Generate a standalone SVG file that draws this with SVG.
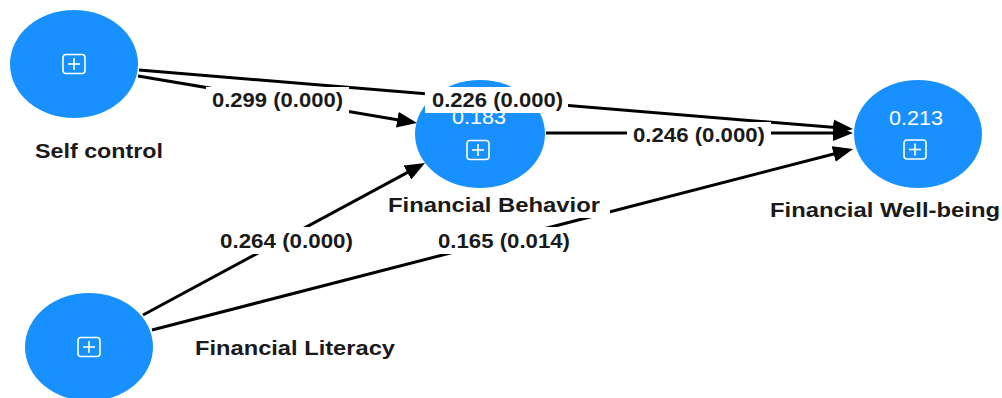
<svg xmlns="http://www.w3.org/2000/svg" width="1002" height="398" viewBox="0 0 1002 398">
<style>
.node{fill:#1890ff}
.lbl{font-family:"Liberation Sans",Arial,sans-serif;font-weight:bold;font-size:21px;fill:#1a1a1a;text-anchor:middle}
.num{font-family:"Liberation Sans",Arial,sans-serif;font-weight:bold;font-size:20px;fill:#1a1a1a;text-anchor:middle}
.r2{font-family:"Liberation Sans",Arial,sans-serif;font-size:20px;fill:#ffffff;text-anchor:middle}
.bg{fill:#ffffff}
.edge{stroke:#000;stroke-width:3;fill:none;marker-end:url(#ah)}
.icon{fill:none;stroke:#fff;stroke-width:1.6}
</style>
<defs>
<marker id="ah" markerUnits="userSpaceOnUse" viewBox="0 0 20 16" markerWidth="20" markerHeight="16" refX="15" refY="8" orient="auto">
<path d="M0,0 L20,8 L0,16 z" fill="#000"/>
</marker>
<g id="plusicon">
<rect x="-11" y="-9.5" width="22" height="19" rx="3" ry="3" class="icon"/>
<line x1="-6" y1="0" x2="6" y2="0" class="icon"/>
<line x1="0" y1="-6" x2="0" y2="6" class="icon"/>
</g>
</defs>

<g id="connectors">
<line class="edge" x1="139" y1="70" x2="848" y2="128.6"/>
<line class="edge" x1="138" y1="76" x2="412.1" y2="122.2"/>
<line class="edge" x1="546" y1="133" x2="848" y2="133"/>
<line class="edge" x1="143" y1="315" x2="420.6" y2="165.4"/>
<line class="edge" x1="152" y1="330" x2="848.2" y2="150.3"/>
</g>

<g id="self-control">
<ellipse class="node" cx="74" cy="64" rx="64" ry="54"/>
<use href="#plusicon" x="74" y="64"/>
<text class="lbl" x="99" y="158" textLength="128" lengthAdjust="spacingAndGlyphs">Self control</text>
</g>

<g id="financial-behavior">
<ellipse class="node" cx="480" cy="134" rx="65" ry="54"/>
<text class="r2" x="479" y="124" textLength="54" lengthAdjust="spacingAndGlyphs">0.183</text>
<use href="#plusicon" x="478" y="150"/>
<rect class="bg" x="384" y="194" width="226" height="24"/>
<text class="lbl" x="494" y="212" textLength="212" lengthAdjust="spacingAndGlyphs">Financial Behavior</text>
</g>

<g id="financial-well-being">
<ellipse class="node" cx="918" cy="134" rx="64" ry="54"/>
<text class="r2" x="916" y="125" textLength="54" lengthAdjust="spacingAndGlyphs">0.213</text>
<use href="#plusicon" x="915" y="149.5"/>
<text class="lbl" x="885" y="217" textLength="230" lengthAdjust="spacingAndGlyphs">Financial Well-being</text>
</g>

<g id="financial-literacy">
<ellipse class="node" cx="89" cy="347" rx="64" ry="54"/>
<use href="#plusicon" x="89" y="347"/>
<text class="lbl" x="295" y="355" textLength="200" lengthAdjust="spacingAndGlyphs">Financial Literacy</text>
</g>

<g id="edge-labels">
<rect class="bg" x="206" y="87" width="143" height="26"/>
<text class="num" x="277.5" y="107" textLength="131" lengthAdjust="spacingAndGlyphs">0.299 (0.000)</text>
<rect class="bg" x="425" y="87" width="143" height="26"/>
<text class="num" x="497.5" y="107" textLength="131" lengthAdjust="spacingAndGlyphs">0.226 (0.000)</text>
<rect class="bg" x="627" y="122" width="144" height="26"/>
<text class="num" x="699" y="142" textLength="132" lengthAdjust="spacingAndGlyphs">0.246 (0.000)</text>
<rect class="bg" x="214" y="227" width="145" height="27"/>
<text class="num" x="286.5" y="248" textLength="133" lengthAdjust="spacingAndGlyphs">0.264 (0.000)</text>
<rect class="bg" x="432" y="227" width="144" height="27"/>
<text class="num" x="504" y="248" textLength="132" lengthAdjust="spacingAndGlyphs">0.165 (0.014)</text>
</g>
</svg>
